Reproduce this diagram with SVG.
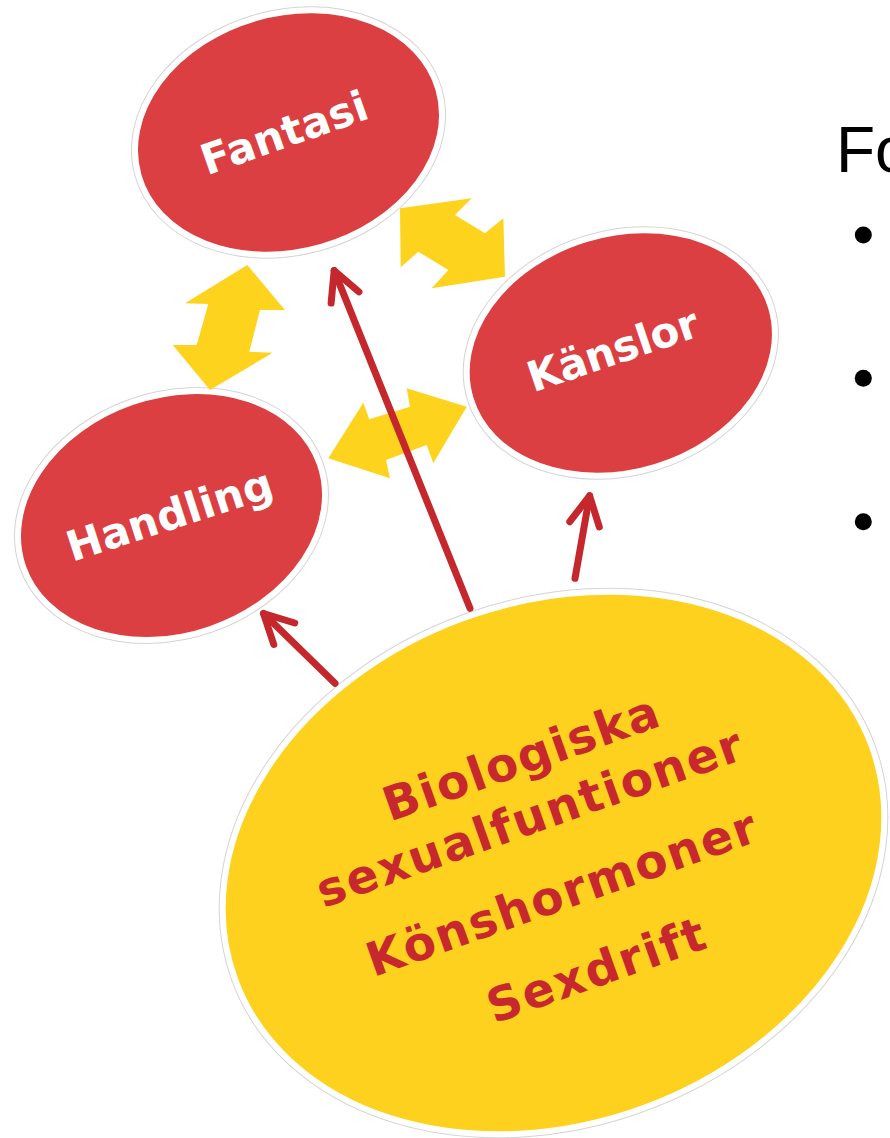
<svg xmlns="http://www.w3.org/2000/svg" width="890" height="1138" viewBox="0 0 890 1138">
  <defs>
    <style>
      .ring { fill: none; stroke: #d4d4d4; stroke-width: 8; }
      .red { fill: #db3f42; stroke: #ffffff; stroke-width: 6; }
      .yel { fill: #fdd11d; stroke: #ffffff; stroke-width: 6; }
      .lbl { font-family: "DejaVu Sans", Verdana, sans-serif; font-weight: bold; font-size: 42px; fill: #ffffff; text-anchor: middle; }
      .bio { font-family: "DejaVu Sans", Verdana, sans-serif; font-weight: bold; font-size: 47px; fill: #c7282e; text-anchor: middle; }
      .barrow { fill: #fdd31e; }
      .conn { stroke: #c4282d; stroke-width: 7; stroke-linecap: round; fill: none; }
      .title { font-family: "Liberation Sans", Arial, sans-serif; font-size: 64px; fill: #000000; }
    </style>
    <marker id="chev" markerUnits="userSpaceOnUse" orient="auto" refX="0" refY="0" markerWidth="40" markerHeight="40" overflow="visible">
      <path d="M -29 -15 L 0 0 L -29 15" fill="none" stroke="#c4282d" stroke-width="7" stroke-linecap="round" stroke-linejoin="round"/>
    </marker>
  </defs>

  <rect x="0" y="0" width="890" height="1138" fill="#ffffff"/>

  <g id="node-fantasi">
    <ellipse class="ring" cx="288.5" cy="132.5" rx="156" ry="119" transform="rotate(-16 288.5 132.5)"/>
    <ellipse class="red" cx="288.5" cy="132.5" rx="156" ry="119" transform="rotate(-16 288.5 132.5)"/>
    <text class="lbl" transform="translate(289 146.7) rotate(-19.4)" x="0" y="0" textLength="174" lengthAdjust="spacing">Fantasi</text>
  </g>

  <g id="node-kanslor">
    <ellipse class="ring" cx="620.8" cy="353" rx="157" ry="119" transform="rotate(-17 620.8 353)"/>
    <ellipse class="red" cx="620.8" cy="353" rx="157" ry="119" transform="rotate(-17 620.8 353)"/>
    <text class="lbl" transform="translate(617.5 364) rotate(-18.7)" x="0" y="0" textLength="178" lengthAdjust="spacing">Känslor</text>
  </g>

  <g id="node-handling">
    <ellipse class="ring" cx="171.5" cy="515.5" rx="157" ry="120" transform="rotate(-19 171.5 515.5)"/>
    <ellipse class="red" cx="171.5" cy="515.5" rx="157" ry="120" transform="rotate(-19 171.5 515.5)"/>
    <text class="lbl" transform="translate(174 529) rotate(-18)" x="0" y="0" textLength="214" lengthAdjust="spacing">Handling</text>
  </g>

  <g id="node-biologiska">
    <ellipse class="ring" cx="553.5" cy="863" rx="339" ry="261" transform="rotate(-20 553.5 863)"/>
    <ellipse class="yel" cx="553.5" cy="863" rx="339" ry="261" transform="rotate(-20 553.5 863)"/>
    <g transform="translate(526.3 773.5) rotate(-19.5)">
      <text class="bio" x="0" y="0" textLength="289" lengthAdjust="spacing">Biologiska</text>
      <text class="bio" x="-12" y="59" textLength="448" lengthAdjust="spacing">sexualfuntioner</text>
      <text class="bio" x="-7" y="141" textLength="410" lengthAdjust="spacing">Könshormoner</text>
      <text class="bio" x="0" y="225" textLength="228" lengthAdjust="spacing">Sexdrift</text>
    </g>
  </g>

  <g id="connectors">
    <polygon class="barrow" points="247.3,265 285,310 260,310 249.3,351.7 272.7,352.7 210,390 172.7,345 196.7,345 208.3,304 185,303.3"/>
    <polygon class="barrow" points="400,208.3 471.7,198.3 455,215 485,233.3 503.3,218.3 505,276.7 431.7,288.3 448.3,270 418.3,251.7 400.7,267.3"/>
    <polygon class="barrow" points="328.3,458.3 363.3,402.7 369.3,419.3 410,406.7 406.7,388.3 466.7,406.7 433.3,463.3 426.7,445 386,460 390,478.3"/>
    <line class="conn" x1="335" y1="683.3" x2="263.5" y2="613.5" marker-end="url(#chev)"/>
    <line class="conn" x1="470" y1="608.3" x2="334.2" y2="270.6" marker-end="url(#chev)"/>
    <line class="conn" x1="575" y1="578.3" x2="589.6" y2="495.8" marker-end="url(#chev)"/>
  </g>

  <g id="side-text">
    <text class="title" x="836" y="172">Fo</text>
    <circle cx="863.3" cy="235" r="8.5" fill="#000000"/>
    <circle cx="863.3" cy="378.3" r="8.5" fill="#000000"/>
    <circle cx="863.3" cy="521.7" r="8.5" fill="#000000"/>
  </g>
</svg>
